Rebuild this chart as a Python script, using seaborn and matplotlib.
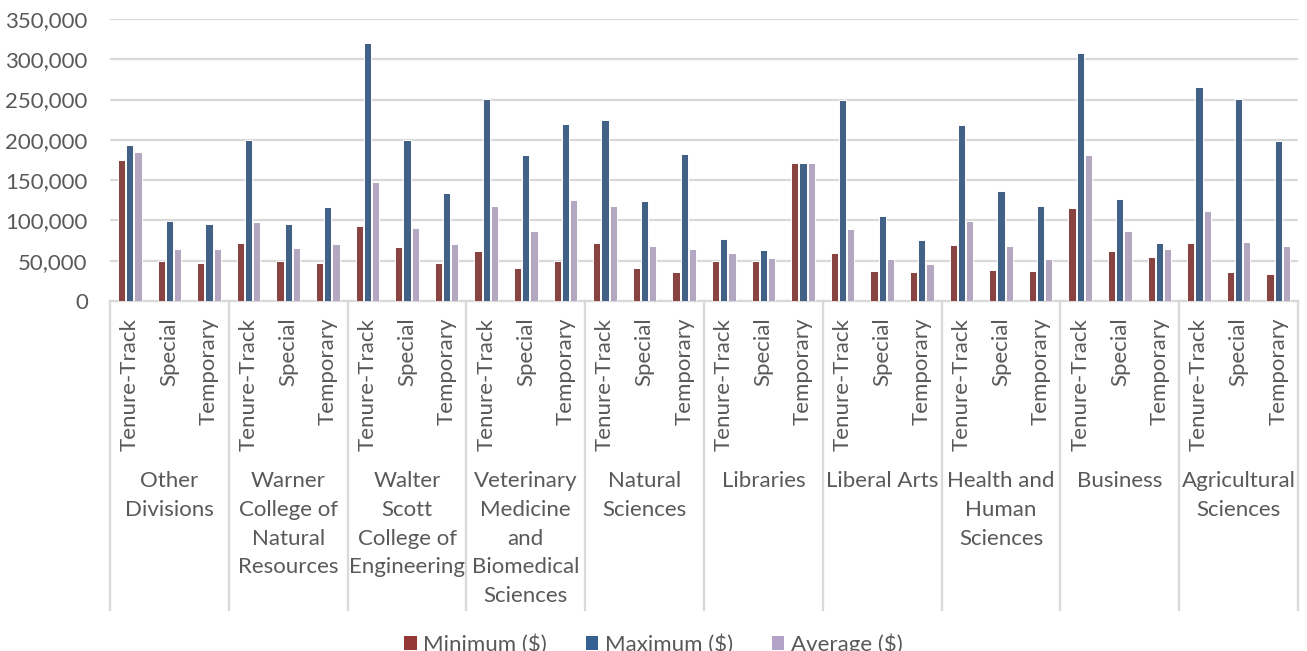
import numpy as np
import pandas as pd
import matplotlib
matplotlib.use("Agg")
import matplotlib.pyplot as plt
from matplotlib.patches import Patch
import seaborn as sns

# Colleges (left to right) and appointment types within each
colleges = [
    "Other\nDivisions",
    "Warner\nCollege of\nNatural\nResources",
    "Walter\nScott\nCollege of\nEngineering",
    "Veterinary\nMedicine\nand\nBiomedical\nSciences",
    "Natural\nSciences",
    "Libraries",
    "Liberal Arts",
    "Health and\nHuman\nSciences",
    "Business",
    "Agricultural\nSciences",
]
appointment_types = ["Tenure-Track", "Special", "Temporary"]

# Salary figures, ordered college by college, Tenure-Track / Special / Temporary
minimum = [175000, 49500, 47500,
           71500, 49500, 47500,
           92500, 67500, 47500,
           62500, 40500, 49500,
           72500, 41000, 36000,
           49500, 49500, 171500,
           60000, 37000, 35500,
           70000, 38500, 37000,
           116000, 61500, 55000,
           72000, 35500, 33500]
maximum = [194000, 99500, 96000,
           200000, 96000, 116500,
           320500, 200000, 133500,
           250500, 181500, 219500,
           224500, 124000, 182000,
           76500, 63000, 171500,
           249500, 105000, 76000,
           218500, 136500, 118500,
           307500, 126500, 71500,
           265500, 250500, 199000]
average = [184500, 64500, 64000,
           97500, 65500, 70500,
           147500, 90500, 71000,
           117500, 87000, 125000,
           117500, 68000, 64500,
           59000, 53000, 171500,
           89500, 52000, 46500,
           99500, 68000, 52500,
           181000, 87500, 64000,
           111500, 73000, 68000]

series_names = ["Minimum ($)", "Maximum ($)", "Average ($)"]
series_colors = ["#953735", "#376092", "#B3A2C7"]

# Long-form table for seaborn
slots = [f"{c}|{t}" for c in colleges for t in appointment_types]
df = pd.DataFrame({
    "slot": slots * 3,
    "series": np.repeat(series_names, len(slots)),
    "value": minimum + maximum + average,
})

plt.rcParams["font.family"] = ["Lato", "DejaVu Sans"]
text_color = "#595959"
grid_color = "#D9D9D9"
fs = 16

fig = plt.figure(figsize=(13.07, 6.51), dpi=100)
W, H = 1307, 651
ax = fig.add_axes([110 / W, 1 - 301 / H, 1188 / W, 282 / H])

sns.barplot(data=df, x="slot", y="value", hue="series", order=slots,
            hue_order=series_names, palette=series_colors, width=0.62,
            gap=0.1, edgecolor="white", linewidth=0.7, legend=False,
            errorbar=None, ax=ax, zorder=3)

ax.set_xlim(-0.5, len(slots) - 0.5)
ax.set_ylim(0, 350000)
ax.set_yticks(np.arange(0, 350001, 50000))
ax.set_yticklabels([f"{v:,}" for v in range(0, 350001, 50000)],
                   fontsize=fs, color=text_color)
ax.yaxis.grid(True, color=grid_color, linewidth=1.6, zorder=0)
ax.set_axisbelow(True)
ax.tick_params(axis="y", length=0, pad=16)

ax.set_xticks(range(len(slots)))
ax.set_xticklabels(appointment_types * len(colleges), rotation=90,
                   fontsize=fs, color=text_color)
ax.tick_params(axis="x", length=0, pad=12)
ax.set_xlabel("")
ax.set_ylabel("")

for side in ["top", "right", "left"]:
    ax.spines[side].set_visible(False)
ax.spines["bottom"].set_color(grid_color)
ax.spines["bottom"].set_linewidth(1.6)

# Group separators reaching down through the category labels
xt = ax.get_xaxis_transform()
sep_bottom = -(610 - 301) / 282
for b in np.arange(-0.5, len(slots), 3):
    ax.plot([b, b], [0, sep_bottom], transform=xt, color=grid_color,
            linewidth=1.6, clip_on=False)

# College names centred under each group
label_top = -(471 - 301) / 282
for i, name in enumerate(colleges):
    ax.text(3 * i + 1, label_top, name, transform=xt, ha="center", va="top",
            fontsize=fs, color=text_color, linespacing=1.55, multialignment="center")

handles = [Patch(facecolor=c, edgecolor="none") for c in series_colors]
fig.legend(handles, series_names, loc="center", bbox_to_anchor=(0.5, 7 / H),
           ncol=3, frameon=False, fontsize=fs, labelcolor=text_color,
           handlelength=0.55, handleheight=0.55, handletextpad=0.3,
           columnspacing=1.75)

fig.savefig("out.png", dpi=100)
